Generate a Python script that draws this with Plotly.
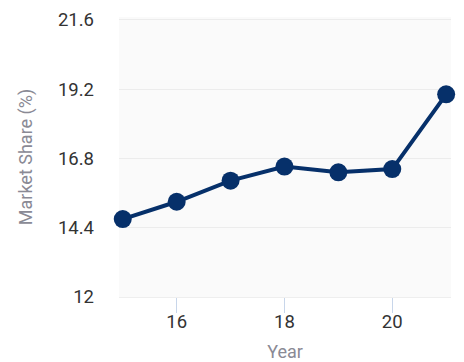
import plotly.graph_objects as go

years = [15, 16, 17, 18, 19, 20, 21]
share = [14.7, 15.3, 16.03, 16.52, 16.32, 16.43, 19.02]
y_ticks = [12, 14.4, 16.8, 19.2, 21.6]
x_ticks = [16, 18, 20]

fig = go.Figure()
fig.add_trace(go.Scatter(
    x=years, y=share, mode="lines+markers",
    line=dict(color="#06306a", width=4),
    marker=dict(color="#06306a", size=18),
    cliponaxis=False,
))
fig.update_layout(
    width=464, height=362,
    margin=dict(l=119, r=13, t=17, b=65),
    paper_bgcolor="white", plot_bgcolor="#fafafa",
    font=dict(family="Roboto", size=18.5, color="#333333"),
    showlegend=False,
)
fig.update_xaxes(
    range=[14.93, 21.09], tickvals=x_ticks, ticktext=[str(v) for v in x_ticks],
    showgrid=False, zeroline=False, showline=True, linecolor="#eeeeee", linewidth=1,
    ticks="outside", ticklen=15, tickcolor="#c8d6ea", tickwidth=1,
    ticklabelstandoff=-7, automargin=False,
    title=dict(text="Year", font=dict(color="#8a8a95", size=18), standoff=23),
)
fig.update_yaxes(
    range=[12, 21.7], tickvals=y_ticks, ticktext=[str(v) for v in y_ticks],
    showgrid=True, gridcolor="#ececec", gridwidth=1, zeroline=False, showline=False,
    ticks="", ticklabelstandoff=24, automargin=False,
    title=dict(text="Market Share (%)", font=dict(color="#8a8a95", size=18), standoff=20),
)
fig.write_html("out.html")
